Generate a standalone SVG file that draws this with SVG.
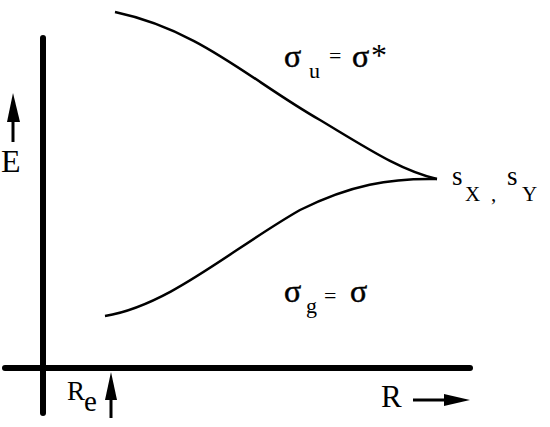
<svg xmlns="http://www.w3.org/2000/svg" width="550" height="427" viewBox="0 0 550 427">
<style>
.t{font-family:"Liberation Serif",serif;fill:#000}
.sg{font-family:"Liberation Serif",serif;fill:#000;stroke:#000;stroke-width:0.5}
.ax{stroke:#000;stroke-width:6;stroke-linecap:round;fill:none}
.cv{stroke:#000;stroke-width:2.5;fill:none}
.ar{stroke:#000;stroke-width:3;fill:none}
</style>
<rect width="550" height="427" fill="#fff"/>
<g id="axes">
<line class="ax" x1="43" y1="38" x2="43" y2="413"/>
<line class="ax" x1="5" y1="368" x2="470" y2="368"/>
</g>
<g id="connectors">
<path class="cv" d="M115,12 C200,30 250,80 320,120 C370,150 400,170 437,179"/>
<path class="cv" d="M105,316 C170,305 230,250 300,210 C350,185 390,178 437,179"/>
<line class="ar" x1="13" y1="142" x2="13" y2="118"/>
<path d="M7,122 L13,93 L20,122 Z" fill="#000"/>
<line class="ar" x1="111" y1="418" x2="111" y2="395"/>
<path d="M105,400 L111,372 L117,400 Z" fill="#000"/>
<line class="ar" x1="413" y1="400" x2="447" y2="400"/>
<path d="M444,394 L470,400 L444,406 Z" fill="#000"/>
</g>
<g id="labels">
<text class="t" x="1" y="172" font-size="32">E</text>
<text class="t" x="67" y="400" font-size="27">R</text>
<text class="t" x="84" y="411" font-size="29">e</text>
<text class="t" x="381" y="407" font-size="31">R</text>
<text class="sg" x="284" y="67" font-size="32">σ</text>
<text class="t" x="309" y="78" font-size="22">u</text>
<text class="t" x="329" y="63" font-size="22">=</text>
<text class="sg" x="352" y="67" font-size="32">σ</text>
<text class="t" x="371" y="66" font-size="32">*</text>
<text class="sg" x="284" y="302" font-size="32">σ</text>
<text class="t" x="306" y="313" font-size="22">g</text>
<text class="t" x="324" y="303" font-size="22">=</text>
<text class="sg" x="350" y="302" font-size="32">σ</text>
<text class="t" x="452" y="185" font-size="27">s</text>
<text class="t" x="465" y="201" font-size="21">X</text>
<text class="t" x="491" y="201" font-size="21">,</text>
<text class="t" x="507" y="185" font-size="27">s</text>
<text class="t" x="522" y="201" font-size="21">Y</text>
</g>
</svg>
